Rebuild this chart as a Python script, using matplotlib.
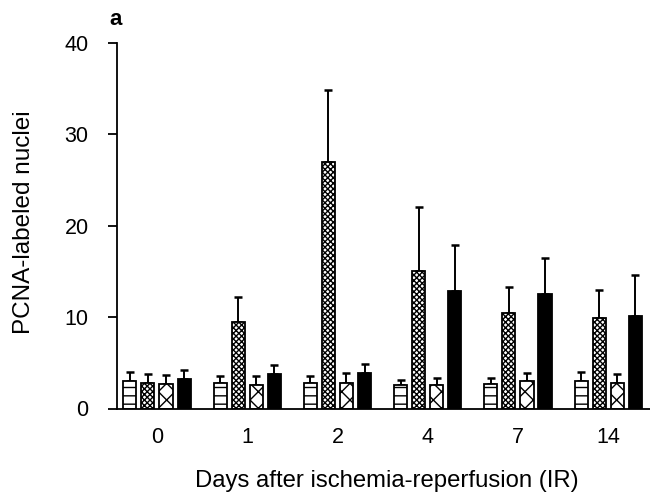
import numpy as np
import matplotlib.pyplot as plt

plt.rcParams['font.family'] = ['Liberation Sans', 'DejaVu Sans']
plt.rcParams['hatch.linewidth'] = 1.0

# Daten
days = ['0', '1', '2', '4', '7', '14']
group_a = [3.0, 2.8, 2.8, 2.6, 2.7, 3.0]         # weiss, horizontale Linien
group_a_err = [1.0, 0.8, 0.8, 0.55, 0.6, 1.0]
group_b = [2.8, 9.5, 27.0, 15.0, 10.5, 9.9]      # gepunktet
group_b_err = [0.95, 2.7, 7.9, 7.0, 2.75, 3.1]
group_c = [2.7, 2.6, 2.8, 2.6, 3.0, 2.75]        # Kreuzschraffur
group_c_err = [0.95, 1.0, 1.1, 0.75, 0.9, 1.0]
group_d = [3.25, 3.8, 3.9, 12.9, 12.5, 10.1]     # schwarz
group_d_err = [0.95, 1.0, 0.95, 5.0, 4.0, 4.5]

series = [
    (group_a, group_a_err, 'white', '--'),
    (group_b, group_b_err, 'white', 'xxxxxx'),
    (group_c, group_c_err, 'white', 'xx'),
    (group_d, group_d_err, 'black', None),
]

fig = plt.figure(figsize=(6.5, 4.95), dpi=100)
ax = fig.add_axes([117 / 650, (495 - 408.5) / 495, 533 / 650, 365.5 / 495])

x = np.arange(len(days))
pitch = 0.2
width = 0.145
for i, (vals, errs, fc, hatch) in enumerate(series):
    pos = x + (i - 1.5) * pitch
    ax.bar(pos, vals, width, color=fc, edgecolor='black', linewidth=1.3,
           hatch=hatch, zorder=2)
    ax.errorbar(pos, vals, yerr=[np.zeros(len(errs)), errs], fmt='none',
                ecolor='black', elinewidth=1.4, capsize=3, capthick=1.8,
                zorder=1)

ax.set_xlim(-0.443, 5.463)
ax.set_ylim(0, 40)
ax.set_yticks([0, 10, 20, 30, 40])
ax.set_xticks(x)
ax.set_xticklabels(days)
ax.tick_params(axis='y', direction='out', length=6.5, width=1.3,
               labelsize=15.5, pad=14)
ax.tick_params(axis='x', length=0, labelsize=15.5, pad=13)

for s in ['top', 'right']:
    ax.spines[s].set_visible(False)
ax.spines['left'].set_linewidth(1.3)
ax.spines['bottom'].set_linewidth(1.3)

fig.text(24 / 650, 1 - 222.5 / 495, 'PCNA-labeled nuclei', rotation=90,
         ha='center', va='center', fontsize=17.5)
fig.text(386.5 / 650, 7.5 / 495, 'Days after ischemia-reperfusion (IR)',
         ha='center', va='baseline', fontsize=17.2)
fig.text(115.5 / 650, 1 - 19.5 / 495, 'a', ha='center', va='center',
         fontsize=16, fontweight='bold')

fig.savefig('out.png', dpi=100)
